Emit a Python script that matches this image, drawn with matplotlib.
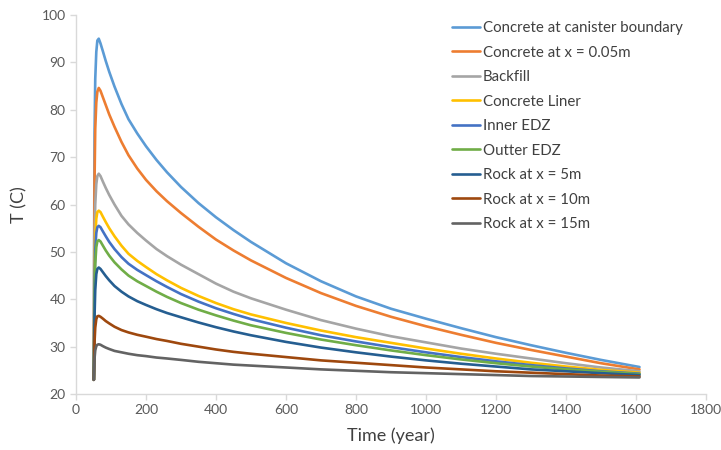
import numpy as np
import matplotlib.pyplot as plt

plt.rcParams['font.family'] = ['Lato', 'DejaVu Sans']

# time axis (years) and temperatures (C) for each monitoring point
years = [51, 52, 53, 55, 58, 61, 65, 70, 77, 85, 95, 110, 130, 150, 175, 200, 230, 260,
         300, 350, 400, 450, 500, 600, 700, 800, 900, 1000, 1100, 1200, 1300, 1400, 1500, 1610]

t_canister = [23, 55, 75, 86.5, 92.2, 94.6, 95.0, 94.0, 92.3, 90.3, 88.0, 84.9, 81.2, 78.0, 75.0, 72.3, 69.4, 66.8,
              63.7, 60.3, 57.3, 54.6, 52.1, 47.6, 43.8, 40.6, 38.0, 35.9, 33.9, 32.0, 30.3, 28.7, 27.2, 25.7]
t_conc_005 = [23, 48, 65, 76, 81.5, 83.8, 84.6, 84.0, 82.6, 81.0, 79.0, 76.4, 73.2, 70.4, 67.6, 65.2, 62.8, 60.7,
              58.2, 55.3, 52.6, 50.3, 48.2, 44.5, 41.3, 38.6, 36.3, 34.3, 32.5, 30.8, 29.3, 27.9, 26.5, 25.2]
t_backfill = [23, 40, 52, 60, 64.3, 66.0, 66.5, 66.0, 64.8, 63.5, 62.0, 60.0, 57.6, 55.8, 54.0, 52.4, 50.6, 49.1,
              47.3, 45.3, 43.3, 41.6, 40.2, 37.8, 35.6, 33.8, 32.2, 30.9, 29.6, 28.5, 27.5, 26.5, 25.6, 24.8]
t_liner = [23, 36, 46, 53, 57, 58.4, 58.7, 58.4, 57.4, 56.3, 55.0, 53.3, 51.3, 49.6, 48.1, 46.8, 45.3, 44.0,
           42.4, 40.7, 39.2, 37.9, 36.8, 35.0, 33.4, 32.0, 30.8, 29.6, 28.5, 27.5, 26.6, 25.8, 25.1, 24.5]
t_inner_edz = [23, 34, 43.5, 50.5, 54.0, 55.2, 55.5, 55.2, 54.3, 53.3, 52.1, 50.6, 48.9, 47.5, 46.2, 45.1, 43.8, 42.6,
               41.1, 39.5, 38.1, 36.9, 35.8, 34.0, 32.4, 31.1, 29.9, 28.8, 27.8, 26.9, 26.1, 25.4, 24.8, 24.3]
t_outer_edz = [23, 32, 40.5, 47.5, 51.0, 52.2, 52.5, 52.2, 51.3, 50.3, 49.2, 47.8, 46.3, 45.0, 43.8, 42.8, 41.6, 40.5,
               39.2, 37.8, 36.6, 35.5, 34.5, 32.9, 31.5, 30.3, 29.2, 28.2, 27.3, 26.5, 25.8, 25.2, 24.7, 24.2]
t_rock_5 = [23, 30, 36.5, 42, 45.3, 46.4, 46.7, 46.4, 45.7, 44.9, 44.0, 42.8, 41.6, 40.6, 39.6, 38.8, 37.9, 37.1,
            36.2, 35.1, 34.1, 33.2, 32.4, 31.0, 29.8, 28.8, 27.9, 27.1, 26.4, 25.8, 25.2, 24.8, 24.4, 24.0]
t_rock_10 = [23, 27, 31, 34, 35.8, 36.4, 36.5, 36.3, 35.9, 35.4, 34.9, 34.2, 33.5, 33.0, 32.5, 32.1, 31.6, 31.2,
             30.6, 30.0, 29.4, 28.9, 28.5, 27.8, 27.1, 26.6, 26.1, 25.6, 25.2, 24.8, 24.5, 24.2, 23.9, 23.7]
t_rock_15 = [23, 25.5, 27.5, 29.2, 30.1, 30.4, 30.5, 30.4, 30.1, 29.8, 29.5, 29.1, 28.8, 28.5, 28.2, 28.0, 27.7, 27.5,
             27.2, 26.8, 26.5, 26.2, 26.0, 25.6, 25.2, 24.9, 24.6, 24.4, 24.2, 24.0, 23.8, 23.7, 23.6, 23.5]

labels = ['Concrete at canister boundary', 'Concrete at x = 0.05m', 'Backfill',
          'Concrete Liner', 'Inner EDZ', 'Outter EDZ', 'Rock at x = 5m',
          'Rock at x = 10m', 'Rock at x = 15m']
series = [t_canister, t_conc_005, t_backfill, t_liner, t_inner_edz,
          t_outer_edz, t_rock_5, t_rock_10, t_rock_15]
colors = ['#5B9BD5', '#ED7D31', '#A5A5A5', '#FFC000', '#4472C4',
          '#70AD47', '#255E91', '#9E480E', '#636363']

fig = plt.figure(figsize=(7.21, 4.5), dpi=100)
ax = fig.add_axes([0.1054, 0.1244, 0.8738, 0.8423])

for vals, lab, c in zip(series, labels, colors):
    ax.plot(years, vals, color=c, lw=1.9, label=lab,
            solid_joinstyle='round', solid_capstyle='round')

ax.set_xlim(0, 1800)
ax.set_ylim(20, 100)
ax.set_xticks(np.arange(0, 1801, 200))
ax.set_yticks(np.arange(20, 101, 10))

for s in ['top', 'right']:
    ax.spines[s].set_visible(False)
for s in ['left', 'bottom']:
    ax.spines[s].set_color('#D9D9D9')
    ax.spines[s].set_linewidth(1)
ax.tick_params(colors='#D9D9D9', labelcolor='#595959', labelsize=10, length=4, width=1)

ax.set_xlabel('Time (year)', fontsize=13, color='#404040', labelpad=8)
ax.set_ylabel('T (C)', fontsize=13, color='#404040', labelpad=10)

leg = ax.legend(loc='upper left', bbox_to_anchor=(0.597, 0.984), frameon=False,
                fontsize=10.8, handlelength=1.85, handletextpad=0.2,
                labelspacing=0.7, borderpad=0, borderaxespad=0)
for t in leg.get_texts():
    t.set_color('#404040')

fig.savefig('out.png', dpi=100)
